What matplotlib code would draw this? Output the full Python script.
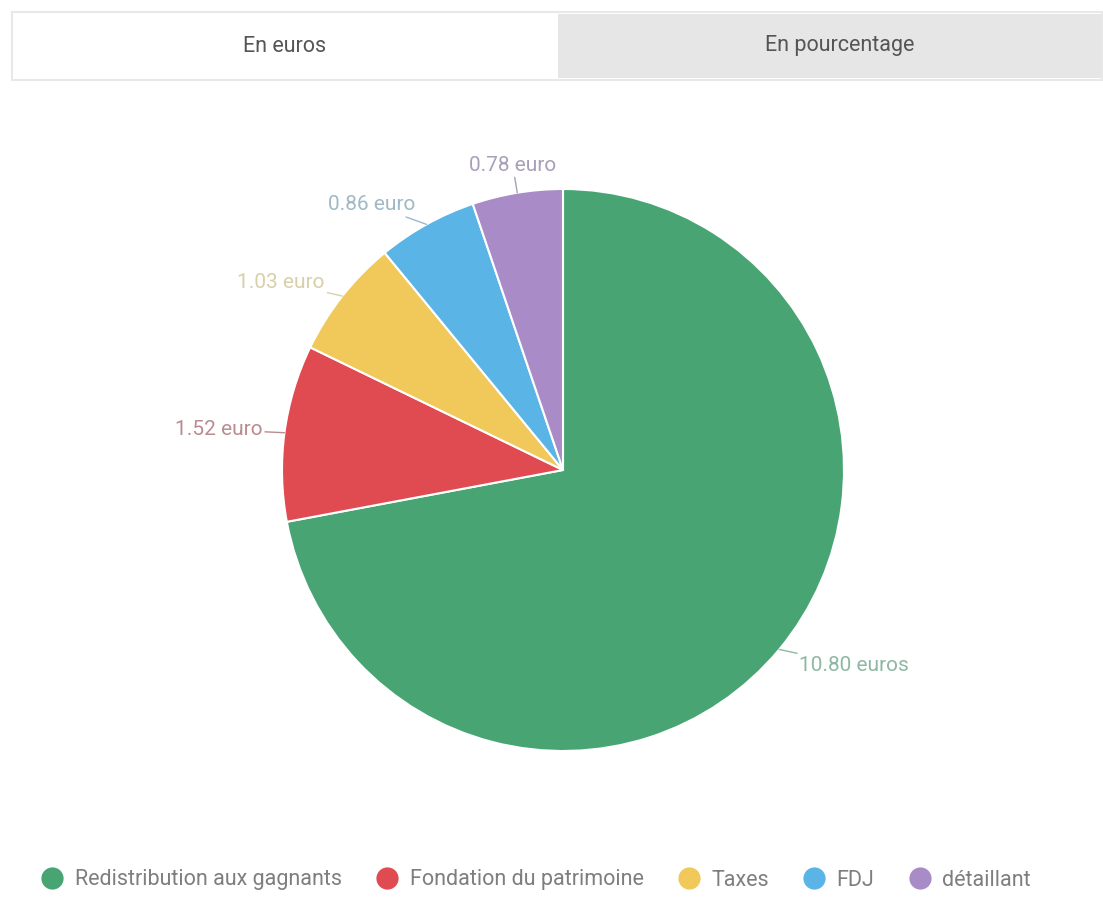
import numpy as np
import matplotlib.pyplot as plt
from matplotlib.lines import Line2D
from matplotlib.patches import Rectangle

plt.rcParams['font.family'] = ['Roboto', 'DejaVu Sans']

# data
categories = ['Redistribution aux gagnants', 'Fondation du patrimoine', 'Taxes', 'FDJ', 'détaillant']
values = [10.80, 1.52, 1.03, 0.86, 0.78]
value_labels = ['10.80 euros', '1.52 euro', '1.03 euro', '0.86 euro', '0.78 euro']
tab_labels = ['En euros', 'En pourcentage']

colors = ['#48a573', '#df4b50', '#f1c95b', '#5bb4e6', '#a98bc7']
label_colors = ['#8fb8a2', '#b88c90', '#d9cfa8', '#9fb9c6', '#a8a0b8']

W, H = 1103, 900
fig = plt.figure(figsize=(W / 100, H / 100), dpi=100)

# tabs at the top
fig.patches.append(Rectangle((12 / W, 1 - 80 / H), 1090 / W, 68 / H, transform=fig.transFigure,
                             facecolor='white', edgecolor='#e8e8e8', linewidth=1.5))
fig.patches.append(Rectangle((558 / W, 1 - 78 / H), 544 / W, 64 / H, transform=fig.transFigure,
                             facecolor='#e6e6e6', edgecolor='none'))
fig.text(285 / W, 1 - 46 / H, tab_labels[0], ha='center', va='center', fontsize=15.5, color='#555555')
fig.text(840 / W, 1 - 46 / H, tab_labels[1], ha='center', va='center', fontsize=15.5, color='#555555')

# pie: centre (563, 470) px, radius 281 px
R = 281
cx, cy = 563, H - 470
lim = 1.4
ax = fig.add_axes([(cx - lim * R) / W, (cy - lim * R) / H, 2 * lim * R / W, 2 * lim * R / H])

wedges, _ = ax.pie(values, colors=colors, startangle=90, counterclock=False, radius=1.0,
                   wedgeprops=dict(edgecolor='white', linewidth=1.5))
ax.set_xlim(-lim, lim)
ax.set_ylim(-lim, lim)
ax.set_aspect('equal')
ax.axis('off')

for w, lab, lc in zip(wedges, value_labels, label_colors):
    mid = np.deg2rad((w.theta1 + w.theta2) / 2)
    x0, y0 = np.cos(mid), np.sin(mid)
    if x0 < -0.3:
        ha, r_txt = 'right', 1.08
    elif x0 > 0.3:
        ha, r_txt = 'left', 1.09
    else:
        ha, r_txt = 'center', 1.1
    xt, yt = r_txt * x0, r_txt * y0
    ax.annotate(lab, xy=(x0, y0), xytext=(xt, yt), ha=ha, va='center', fontsize=15, color=lc,
                arrowprops=dict(arrowstyle='-', color=lc, lw=1, shrinkA=0, shrinkB=0))

# legend
handles = [Line2D([], [], marker='o', linestyle='none', markersize=16, markerfacecolor=c,
                  markeredgecolor='none') for c in colors]
fig.legend(handles, categories, loc='center', bbox_to_anchor=(535 / W, 20 / H), ncol=5, frameon=False,
           fontsize=15.5, labelcolor='#7e7e7e', handletextpad=0.45, columnspacing=1.5, handlelength=1.2)

fig.savefig('out.png', dpi=100)
